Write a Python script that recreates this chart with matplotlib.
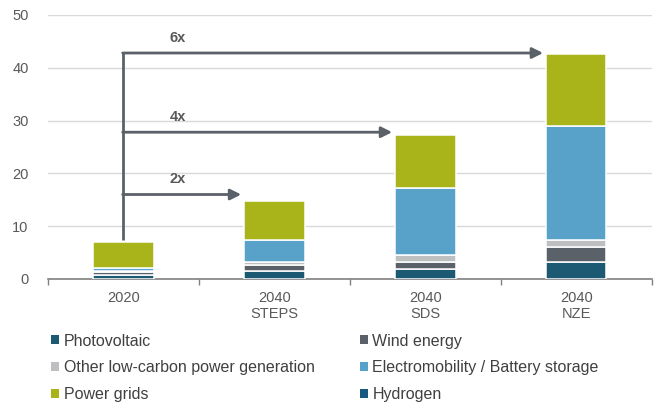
import numpy as np
import matplotlib.pyplot as plt
from matplotlib.patches import Patch

plt.rcParams['font.family'] = ['Liberation Sans', 'DejaVu Sans']

# investment by technology (stacked from the bottom up)
categories = ['2020', '2040\nSTEPS', '2040\nSDS', '2040\nNZE']
photovoltaic = [0.7, 1.5, 1.8, 3.2]
wind = [0.6, 1.1, 1.5, 2.9]
other_low_carbon = [0.3, 0.7, 1.2, 1.3]
electromobility = [0.5, 4.0, 12.7, 21.5]
power_grids = [4.9, 7.5, 10.1, 13.7]
hydrogen = [0.0, 0.0, 0.0, 0.0]

growth_labels = ['2x', '4x', '6x']
arrow_levels = [16.0, 27.8, 42.8]

series = [
    ('Photovoltaic', photovoltaic, '#1b5a72'),
    ('Wind energy', wind, '#5b6168'),
    ('Other low-carbon power generation', other_low_carbon, '#bdbfc1'),
    ('Electromobility / Battery storage', electromobility, '#58a1c9'),
    ('Power grids', power_grids, '#a8b41a'),
    ('Hydrogen', hydrogen, '#1b5a80'),
]

fig = plt.figure(figsize=(6.57, 4.03), dpi=100)
ax = fig.add_axes([0.073, 0.3077, 0.919, 0.6551])

x = np.arange(len(categories))
bottom = np.zeros(len(categories))
for name, vals, color in series:
    vals = np.array(vals)
    if vals.sum() > 0:
        ax.bar(x, vals, 0.4, bottom=bottom, color=color, edgecolor='white',
               linewidth=1.1, zorder=3)
    bottom += vals

ax.set_xlim(-0.5, 3.5)
ax.set_ylim(0, 50)
ax.set_yticks(range(0, 51, 10))
ax.grid(axis='y', color='#d9d9d9', linewidth=1.0, zorder=0)
for s in ['top', 'right', 'left']:
    ax.spines[s].set_visible(False)
ax.spines['bottom'].set_color('#808080')
ax.spines['bottom'].set_linewidth(1.2)
ax.tick_params(axis='y', length=0, pad=14, labelsize=10.5, labelcolor='#595959')

# category labels at centres, tick marks on the boundaries
ax.set_xticks(x)
ax.set_xticklabels(categories, fontsize=10.5, color='#595959', linespacing=1.1)
ax.tick_params(axis='x', which='major', length=0, pad=9)
ax.set_xticks(np.arange(-0.5, 4.0, 1.0), minor=True)
ax.tick_params(axis='x', which='minor', length=4, color='#808080', width=1.0)

# growth arrows from the 2020 bar
arrow_col = '#5b6168'
ax.plot([0, 0], [7.4, arrow_levels[-1]], color=arrow_col, lw=2, zorder=4,
        solid_capstyle='butt')
for i, (lab, lvl) in enumerate(zip(growth_labels, arrow_levels)):
    target = x[i + 1] - 0.2 - 0.02
    ax.annotate('', xy=(target, lvl), xytext=(-0.005, lvl),
                arrowprops=dict(arrowstyle='-|>', color=arrow_col, lw=2,
                                mutation_scale=16, shrinkA=0, shrinkB=0),
                zorder=4)
    ax.text(0.36, lvl + 2.9, lab, ha='center', va='center', fontsize=10.5,
            fontweight='bold', color='#595959')

# legend laid out row by row
handles = [Patch(facecolor=c, edgecolor='none', label=n) for n, _, c in series]
order = [0, 2, 4, 1, 3, 5]
fig.legend([handles[i] for i in order], [series[i][0] for i in order],
           loc='upper left', bbox_to_anchor=(0.056, 0.208), ncol=2, frameon=False,
           fontsize=11.5, handlelength=0.5, handleheight=0.5, handletextpad=0.3,
           columnspacing=2.8, labelspacing=0.74, labelcolor='#404040')

fig.savefig('out.png', dpi=100)
